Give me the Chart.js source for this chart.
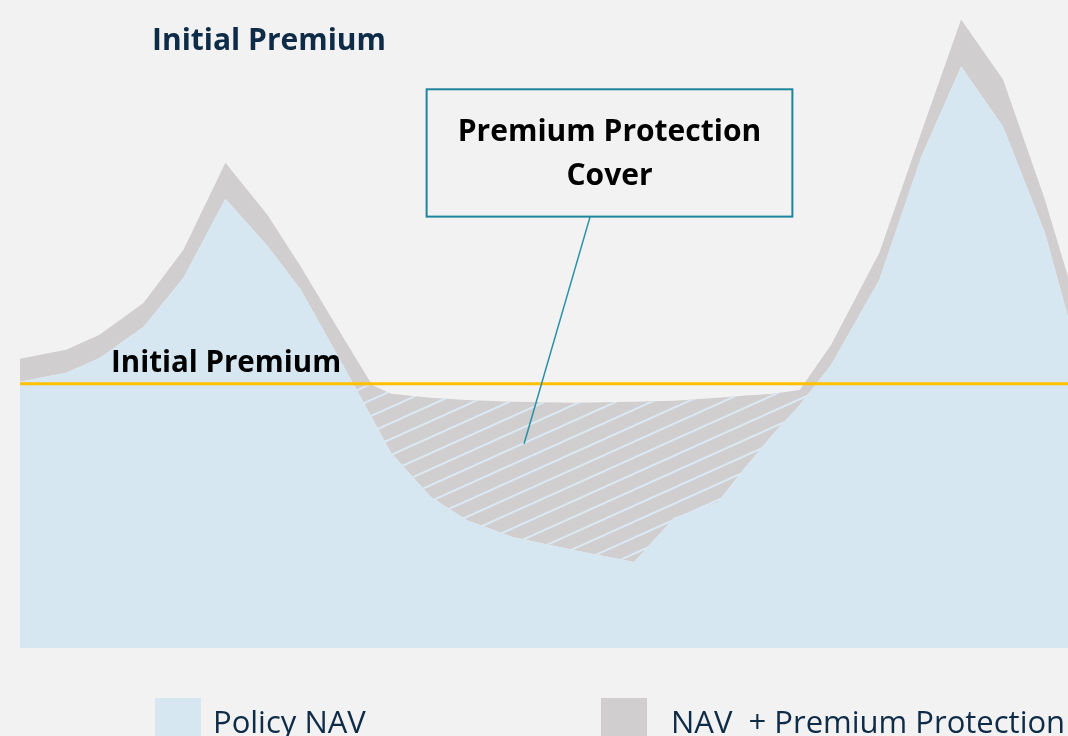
<!DOCTYPE html>
<html>
<head>
<meta charset="utf-8">
<script src="https://cdn.jsdelivr.net/npm/chart.js@4.4.1/dist/chart.umd.min.js"></script>
<style>
  html, body { margin: 0; padding: 0; background: #f2f2f2; }
  canvas { display: block; }
</style>
</head>
<body>
<canvas id="navChart" width="1068" height="736"></canvas>
<script>
// time axis (months) and values (initial premium = 100)
const months = [0, 2.2, 3.8, 5.9, 7.8, 9.8, 11.8, 13.4, 15.4, 16.8, 17.7, 19.6, 21.3, 23.5, 26.4, 29.3, 31.2, 33.3, 34.5, 35.9, 37.2, 38.7, 41.0, 43.0, 44.9, 46.9, 48.9, 50];
const policyNav = [100.8, 104.2, 109.8, 121.6, 140.2, 170.1, 152.3, 135.6, 107.2, 87.1, 73.9, 57.2, 48.5, 42.0, 37.1, 32.6, 49.2, 55.3, 67.4, 80.7, 92.0, 107.2, 139.4, 186.0, 220.1, 197.3, 157.2, 125.4];
const navPlusProtection = [109.5, 112.9, 118.6, 130.7, 150.8, 183.7, 164.0, 144.3, 117.8, 99.6, 96.2, 94.7, 93.9, 93.2, 92.8, 93.2, 93.6, 94.7, 95.5, 96.2, 97.7, 114.8, 149.6, 195.1, 237.9, 215.2, 169.7, 140.5];
const initialPremium = 100;
const seriesLabels = ['Policy NAV', 'NAV  + Premium Protection'];
const titleText = 'Initial Premium';
const lineLabel = 'Initial Premium';
const noteLines = ['Premium Protection', 'Cover'];

// annotation box in data units
const note = { x0: 19.4, x1: 36.85, y0: 211.5, y1: 163.3, fromX: 27.2, toX: 24.05, toY: 77.3 };

const BLUE = '#d7e7f1';
const GREY = '#d0cecf';
const NAVY = '#0e2b47';
const TEAL = '#1f859d';
const FONT = '"Open Sans", "Noto Sans", sans-serif';

function pts(vals) {
  return months.map((m, i) => ({ x: m, y: vals[i] }));
}

const overlay = {
  id: 'overlay',
  afterDatasetsDraw(chart) {
    // hatch the protection cover below the initial premium line
    const { ctx, chartArea, scales } = chart;
    const nav = chart.getDatasetMeta(1).data;
    const top = chart.getDatasetMeta(2).data;
    const lineY = scales.y.getPixelForValue(initialPremium);
    ctx.save();
    ctx.beginPath();
    ctx.rect(chartArea.left, lineY + 2, chartArea.right - chartArea.left, chartArea.bottom - lineY - 2);
    ctx.clip();
    ctx.beginPath();
    top.forEach((p, i) => i ? ctx.lineTo(p.x, p.y) : ctx.moveTo(p.x, p.y));
    for (let i = nav.length - 1; i >= 0; i--) ctx.lineTo(nav[i].x, nav[i].y);
    ctx.closePath();
    ctx.clip();
    ctx.strokeStyle = '#dae9f3';
    ctx.lineWidth = 2;
    const w = chartArea.right - chartArea.left;
    const slope = 0.45;
    for (let c = 670 - 16 * 40; c < chartArea.bottom + slope * w; c += 16) {
      ctx.beginPath();
      ctx.moveTo(chartArea.left, c);
      ctx.lineTo(chartArea.right, c - slope * w);
      ctx.stroke();
    }
    ctx.restore();
  },
  afterDraw(chart) {
    const { ctx, scales } = chart;
    const x = scales.x, y = scales.y;
    const lineY = y.getPixelForValue(initialPremium);
    ctx.save();
    ctx.textBaseline = 'alphabetic';

    // title
    ctx.fillStyle = NAVY;
    ctx.font = 'bold 30px ' + FONT;
    ctx.textAlign = 'left';
    ctx.fillText(titleText, 152, 50);

    // label on the line
    ctx.fillStyle = '#000';
    ctx.font = 'bold 29.5px ' + FONT;
    ctx.fillText(lineLabel, 111, lineY - 12);

    // leader line
    ctx.strokeStyle = '#2a90a6';
    ctx.lineWidth = 1.5;
    ctx.beginPath();
    ctx.moveTo(x.getPixelForValue(note.fromX), y.getPixelForValue(note.y1));
    ctx.lineTo(x.getPixelForValue(note.toX), y.getPixelForValue(note.toY));
    ctx.stroke();

    // note box
    const bx0 = x.getPixelForValue(note.x0), bx1 = x.getPixelForValue(note.x1);
    const by0 = y.getPixelForValue(note.y0), by1 = y.getPixelForValue(note.y1);
    ctx.fillStyle = '#f2f2f2';
    ctx.fillRect(bx0, by0, bx1 - bx0, by1 - by0);
    ctx.strokeStyle = TEAL;
    ctx.lineWidth = 2;
    ctx.strokeRect(bx0, by0, bx1 - bx0, by1 - by0);
    ctx.fillStyle = '#000';
    ctx.font = 'bold 30px ' + FONT;
    ctx.textAlign = 'center';
    const cx = (bx0 + bx1) / 2;
    ctx.fillText(noteLines[0], cx, by0 + 52);
    ctx.fillText(noteLines[1], cx, by0 + 96);

    // legend
    const legend = [
      { box: 155, text: 213, color: chart.data.datasets[1].backgroundColor, label: chart.data.datasets[1].label },
      { box: 601, text: 671, color: chart.data.datasets[2].backgroundColor, label: chart.data.datasets[2].label }
    ];
    ctx.textAlign = 'left';
    ctx.font = '31px ' + FONT;
    legend.forEach(it => {
      ctx.fillStyle = it.color;
      ctx.fillRect(it.box, 698, 46, 40);
      ctx.fillStyle = NAVY;
      ctx.fillText(it.label, it.text, 733);
    });
    ctx.restore();
  }
};

new Chart(document.getElementById('navChart'), {
  type: 'line',
  data: {
    datasets: [
      {
        label: lineLabel,
        data: [{ x: months[0], y: initialPremium }, { x: months[months.length - 1], y: initialPremium }],
        borderColor: '#ffc000',
        borderWidth: 3,
        pointRadius: 0,
        fill: false
      },
      {
        label: seriesLabels[0],
        data: pts(policyNav),
        backgroundColor: BLUE,
        borderWidth: 0,
        pointRadius: 0,
        fill: 'origin'
      },
      {
        label: seriesLabels[1],
        data: pts(navPlusProtection),
        backgroundColor: GREY,
        borderWidth: 0,
        pointRadius: 0,
        fill: 1
      }
    ]
  },
  options: {
    responsive: false,
    animation: false,
    devicePixelRatio: 1,
    layout: { padding: { left: 20, right: 0, top: 14, bottom: 88 } },
    scales: {
      x: { type: 'linear', min: 0, max: 50, display: false },
      y: { min: 0, max: 240, display: false }
    },
    elements: { line: { tension: 0 } },
    plugins: { legend: { display: false }, tooltip: { enabled: false } }
  },
  plugins: [overlay]
});
</script>
</body>
</html>
